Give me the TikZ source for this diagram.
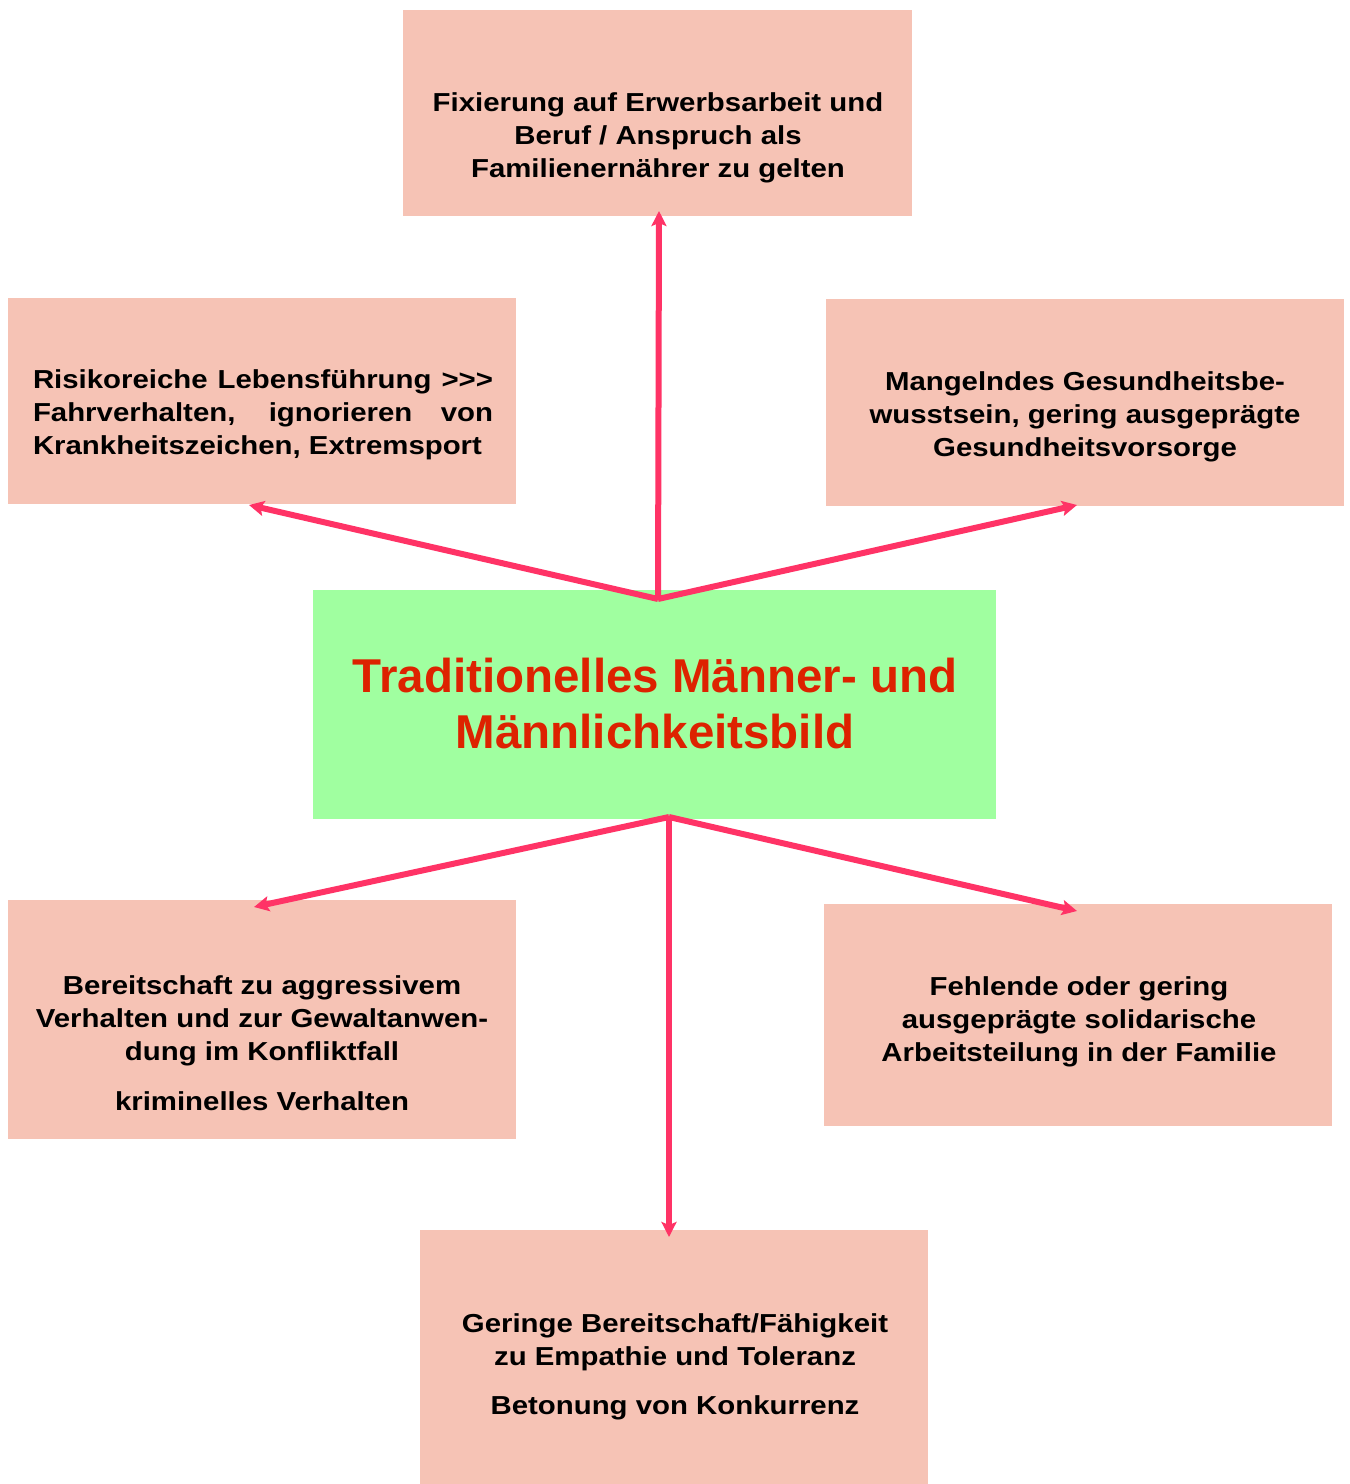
\documentclass[tikz,border=0pt]{standalone}
\usepackage{fontspec}
\newfontfamily\boxfont{Liberation Sans}[FakeStretch=1.13]
\newfontfamily\titlefont{Liberation Sans}
\usetikzlibrary{arrows.meta}
\definecolor{boxc}{RGB}{246,195,181}
\definecolor{greenc}{RGB}{160,255,160}
\definecolor{titlec}{RGB}{221,34,0}
\definecolor{arrowc}{RGB}{255,51,102}
\begin{document}
\begin{tikzpicture}[x=1pt,y=-1pt,
  box/.style={fill=boxc, draw=none, inner sep=0pt, minimum width=#1},
  centerbox/.style={fill=greenc, draw=none, inner sep=0pt},
  txt/.style={inner sep=0pt, align=center, font=\boxfont\bfseries\fontsize{26pt}{33pt}\selectfont, text=black},
  titletxt/.style={inner sep=0pt, align=center, font=\titlefont\bfseries\fontsize{47.5pt}{56pt}\selectfont, text=titlec},
  conn/.style={draw=arrowc, line width=6pt, -{Stealth[length=15pt,width=15pt,inset=3pt]}}
]
\useasboundingbox (0,0) rectangle (1350,1484);
\fill[white] (0,0) rectangle (1350,1484);

% boxes
\node[box=509pt, minimum height=206pt] (top) at (657.5,113) {};
\node[box=508pt, minimum height=206pt] (lu) at (262,401) {};
\node[box=518pt, minimum height=207pt] (ru) at (1085,402.5) {};
\node[centerbox, minimum width=683pt, minimum height=229pt] (center) at (654.5,704.5) {};
\node[box=508pt, minimum height=239pt] (ll) at (262,1019.5) {};
\node[box=508pt, minimum height=222pt] (rl) at (1078,1015) {};
\node[box=508pt, minimum height=254pt] (bot) at (674,1357) {};

% texts
\node[txt] (toptext) at (658,138) {Fixierung auf Erwerbsarbeit und\\Beruf / Anspruch als\\Familienernährer zu gelten};
\node[txt, align=left] (lutext) at (263,415) {\makebox[460pt][s]{Risikoreiche Lebensführung >>>}\\\makebox[460pt][s]{Fahrverhalten, ignorieren von}\\Krankheitszeichen, Extremsport};
\node[txt] (rutext) at (1085,417) {Mangelndes Gesundheitsbe-\\wusstsein, gering ausgeprägte\\Gesundheitsvorsorge};
\node[titletxt] (titletext) at (655,704) {Traditionelles Männer- und\\Männlichkeitsbild};
\node[txt] (lltext) at (262,1043) {Bereitschaft zu aggressivem\\Verhalten und zur Gewaltanwen-\\dung im Konfliktfall\\[17pt]kriminelles Verhalten};
\node[txt] (rltext) at (1079,1022) {Fehlende oder gering\\ausgeprägte solidarische\\Arbeitsteilung in der Familie};
\node[txt] (bottext) at (675,1367) {Geringe Bereitschaft/Fähigkeit\\zu Empathie und Toleranz\\[16pt]Betonung von Konkurrenz};

% connectors
\coordinate (hubU) at (658,599);
\coordinate (hubL) at (669,817);
\coordinate (eTop) at (659,211);
\coordinate (eLU) at (249,505);
\coordinate (eRU) at (1077,505);
\coordinate (eLL) at (254,907);
\coordinate (eBot) at (669,1237);
\coordinate (eRL) at (1077,911);
\draw[conn] (hubU) -- (eTop);
\draw[conn] (hubU) -- (eLU);
\draw[conn] (hubU) -- (eRU);
\draw[conn] (hubL) -- (eLL);
\draw[conn] (hubL) -- (eBot);
\draw[conn] (hubL) -- (eRL);
\end{tikzpicture}
\end{document}
